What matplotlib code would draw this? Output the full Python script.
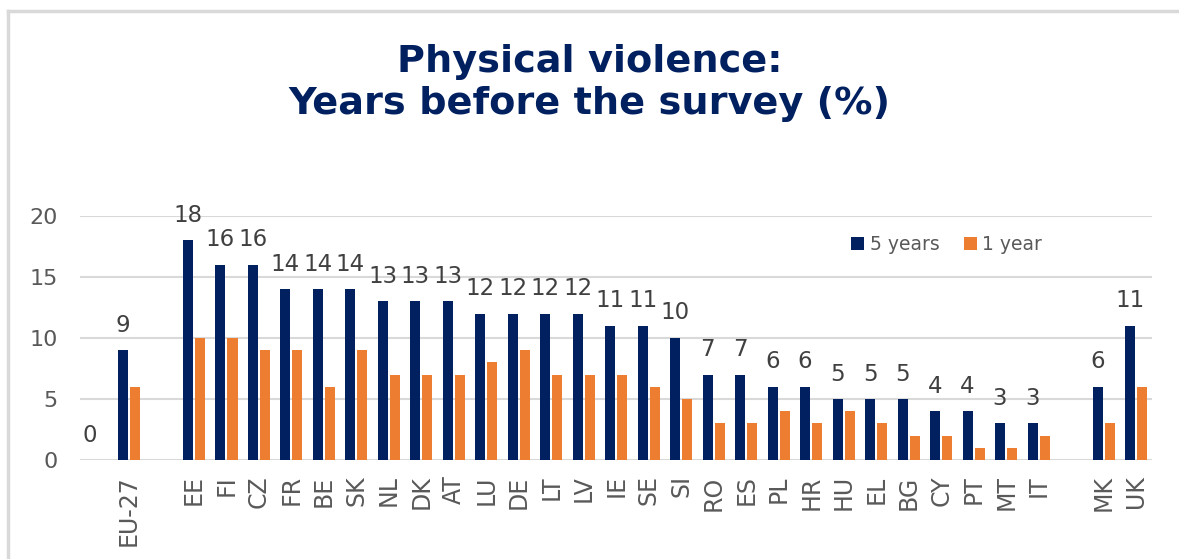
import numpy as np
import matplotlib.pyplot as plt
from matplotlib.lines import Line2D

# data (blank entries are spacer categories)
countries = ['', 'EU-27', ' ', 'EE', 'FI', 'CZ', 'FR', 'BE', 'SK', 'NL', 'DK', 'AT',
             'LU', 'DE', 'LT', 'LV', 'IE', 'SE', 'SI', 'RO', 'ES', 'PL', 'HR',
             'HU', 'EL', 'BG', 'CY', 'PT', 'MT', 'IT', '  ', 'MK', 'UK']
five_years = [0, 9, None, 18, 16, 16, 14, 14, 14, 13, 13, 13, 12, 12, 12, 12,
              11, 11, 10, 7, 7, 6, 6, 5, 5, 5, 4, 4, 3, 3, None, 6, 11]
one_year = [None, 6, None, 10, 10, 9, 9, 6, 9, 7, 7, 7, 8, 9, 7, 7,
            7, 6, 5, 3, 3, 4, 3, 4, 3, 2, 2, 1, 1, 2, None, 3, 6]

navy = '#002060'
orange = '#ED7D31'
grey = '#595959'

fig = plt.figure(figsize=(11.79, 5.59), dpi=100)
ax = fig.add_axes([0.0679, 0.1771, 0.9096, 0.4365])

x = np.arange(len(countries))
v5 = np.array([np.nan if v is None else v for v in five_years], dtype=float)
v1 = np.array([np.nan if v is None else v for v in one_year], dtype=float)

w = 0.31
ax.bar(x - 0.19, np.nan_to_num(v5), w, color=navy, label='5 years', zorder=3)
ax.bar(x + 0.19, np.nan_to_num(v1), w, color=orange, label='1 year', zorder=3)

# data labels on the 5-year series only
for xi, v in zip(x, v5):
    if not np.isnan(v):
        ax.annotate(f'{int(v)}', (xi - 0.19, v), xytext=(0, 25),
                    textcoords='offset pixels', ha='center', va='center',
                    fontsize=16.5, color='#404040', annotation_clip=False)

ax.set_xlim(-0.5, len(countries) - 0.5)
ax.set_ylim(0, 20)
ax.set_yticks([0, 5, 10, 15, 20])
ax.set_xticks(x)
ax.set_xticklabels(countries, rotation=90)
ax.tick_params(axis='y', length=0, pad=16, labelsize=16, labelcolor=grey)
ax.tick_params(axis='x', length=0, pad=11, labelsize=17, labelcolor=grey)
ax.grid(axis='y', color='#D9D9D9', linewidth=1.5, zorder=0)
for s in ['top', 'right', 'left', 'bottom']:
    ax.spines[s].set_visible(False)

ax.legend(loc='upper right', bbox_to_anchor=(0.913, 0.99), ncol=2, frameon=False,
          fontsize=13.5, labelcolor=grey, handlelength=0.7, handleheight=0.7,
          handletextpad=0.3, columnspacing=1.3)

fig.text(0.5, 0.851, 'Physical violence:\nYears before the survey (%)',
         ha='center', va='center', fontsize=27.5, fontweight='bold', color=navy,
         linespacing=1.2)

# outer chart frame
fig.add_artist(Line2D([0.0072, 1.0], [0.980, 0.980], color='#D9D9D9', lw=2.5))
fig.add_artist(Line2D([0.0072, 0.0072], [0.0, 0.980], color='#D9D9D9', lw=2.5))

fig.savefig('out.png', dpi=100)
